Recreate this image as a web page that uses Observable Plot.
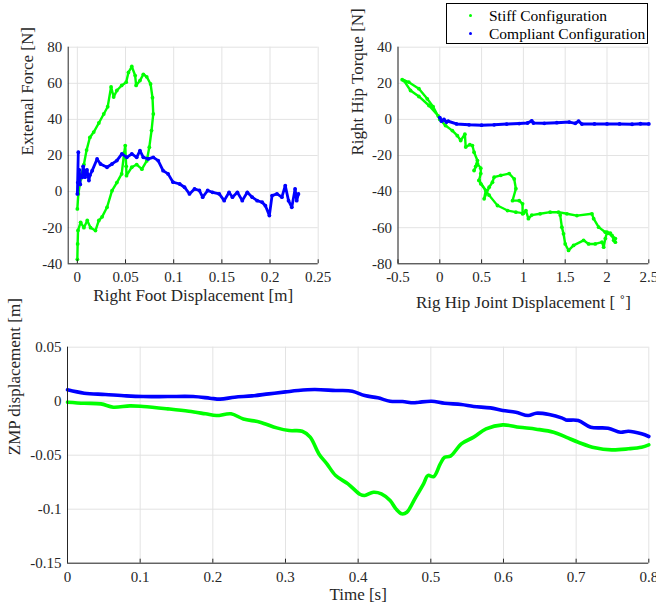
<!DOCTYPE html>
<html><head><meta charset="utf-8">
<script src="https://cdn.jsdelivr.net/npm/d3@7"></script>
<script src="https://cdn.jsdelivr.net/npm/@observablehq/plot@0.6"></script>
<style>
body{margin:0;background:#fff;}
#wrap{position:relative;width:656px;height:614px;font-family:"Liberation Serif","Times New Roman",Times,serif;overflow:hidden;}
#wrap > .p{position:absolute;}
#legend{position:absolute;left:446px;top:3px;width:200px;height:39px;border:1px solid #000;background:#fff;color:#000;font-size:15.5px;}
#legend .row{position:absolute;left:0;height:18px;line-height:18px;white-space:nowrap;}
#legend .dot{position:absolute;left:22px;top:7px;width:3px;height:3px;border-radius:50%;}
#legend .txt{position:absolute;left:42px;top:0;}
</style></head><body><div id="wrap"></div>
<script>
// ---------- data ----------
const seriesNames = ["Stiff Configuration", "Compliant Configuration"];
const seriesColors = ["#00ff00", "#0000ff"];

// Top-left: Right Foot Displacement [m] vs External Force [N]
const footStiff = [[0,-37.5],[0.0003,-29],[0.0007,-21.5],[0.0034,-17],[0.0068,-20],[0.0103,-16],[0.0137,-20],[0.0188,-21.6],[0.0223,-16],[0.0257,-14],[0.0308,-8.7],[0.036,0.5],[0.041,5],[0.046,9.8],[0.0486,21.4],[0.0497,25.5],[0.0507,14],[0.051,8.8],[0.0565,13.5],[0.0616,15],[0.067,12.4],[0.072,17],[0.0747,24.6],[0.077,33.8],[0.0788,43],[0.078,52],[0.076,59.6],[0.072,63.6],[0.0685,65],[0.065,61.5],[0.061,58.8],[0.06,64.3],[0.0565,69.3],[0.053,66],[0.0507,60.6],[0.046,58.8],[0.041,56],[0.0377,52.4],[0.035,58],[0.0315,47],[0.0274,43],[0.0223,38],[0.017,33],[0.013,30],[0.0096,23],[0.0068,15],[0.0034,7],[0.001,-1.3],[0,-9.6]];
const footCompliant = [[0.001,21.8],[0,-1.3],[0.0005,5],[0.002,12],[0.003,4],[0.0017,9.8],[0.0051,7.9],[0.006,14],[0.008,8],[0.0086,11.6],[0.01,12],[0.012,6.1],[0.013,9],[0.0154,11.6],[0.0205,18.1],[0.024,15.3],[0.0308,13.5],[0.036,15.3],[0.041,17.2],[0.0462,20.9],[0.0514,19],[0.0565,20.9],[0.0616,19],[0.065,22.7],[0.0685,19],[0.0736,18.1],[0.0788,19],[0.0839,17.2],[0.089,11.6],[0.0942,9.8],[0.0993,5.2],[0.1062,4.2],[0.1113,2.4],[0.1164,-1.3],[0.1216,1.5],[0.1267,0.6],[0.1301,-3.1],[0.1353,0.6],[0.1404,-0.4],[0.1473,-1.3],[0.1524,-5],[0.1575,-0.4],[0.161,-3.1],[0.1661,-0.4],[0.1712,-5],[0.1764,-0.4],[0.1815,-3.1],[0.1866,-5],[0.1918,-5.9],[0.1952,-7.8],[0.1993,-13.3],[0.2021,-2.2],[0.2072,-1.3],[0.2123,-3.1],[0.2158,3.3],[0.2192,-5],[0.2226,-8.7],[0.226,1.5],[0.2277,-5],[0.2295,-1.3]];
const footXDomain = [-0.0095, 0.25];
const footYDomain = [-40, 80];
const footXTicks = [0, 0.05, 0.1, 0.15, 0.2, 0.25];
const footYTicks = [-40, -20, 0, 20, 40, 60, 80];

// Top-right: Rig Hip Joint Displacement vs Right Hip Torque [N]
const hipStiff = [[-0.02,2],[-0.13,7.7],[-0.25,12.7],[-0.35,16],[-0.43,21.5],[-0.45,22],[-0.37,20.6],[-0.25,17],[-0.15,11.4],[-0.08,7],[0,0],[0.068,-3.4],[0.15,-6.2],[0.21,-9],[0.25,-11.7],[0.3,-8.2],[0.31,-15.3],[0.36,-14],[0.39,-14.5],[0.41,-18.2],[0.45,-22.8],[0.43,-26],[0.41,-28.3],[0.45,-24.5],[0.49,-27],[0.49,-30],[0.47,-33.8],[0.55,-39.4],[0.53,-44],[0.59,-37.6],[0.63,-34.8],[0.65,-32],[0.73,-31],[0.83,-30],[0.89,-33],[0.91,-38.4],[0.87,-45],[0.95,-45],[0.99,-46.8],[0.99,-52.3],[1.03,-50.5],[1.06,-55],[1.1,-53],[1.2,-52.3],[1.32,-51.4],[1.42,-51.4],[1.52,-52.3],[1.64,-53.3],[1.82,-52.3],[1.84,-55],[1.9,-59.7],[1.98,-62.5],[2.06,-64.3],[2.1,-66],[2.08,-67],[2.1,-68],[2.04,-63],[2.0,-62.5],[1.98,-66],[1.96,-70.8],[1.94,-68],[1.86,-69],[1.78,-69],[1.72,-67],[1.6,-69.8],[1.54,-72.6],[1.5,-69],[1.48,-63.4],[1.46,-59.7],[1.44,-53]];
const hipStiffLower = [[0.47,-33.8],[0.49,-35.7],[0.59,-42],[0.69,-47.7],[0.81,-50.5],[0.91,-51.4],[1.0,-52]];
const hipCompliant = [[0,1],[0.02,-1],[0.05,0],[0.08,-1.5],[0.1,-1],[0.2,-2.5],[0.35,-3],[0.5,-3.2],[0.65,-3],[0.8,-2.6],[0.95,-2.3],[1.05,-2],[1.1,-0.8],[1.12,-2],[1.25,-2.2],[1.4,-1.8],[1.55,-1.5],[1.62,-2.2],[1.66,-1],[1.7,-2.6],[1.85,-2.5],[2.0,-2.5],[2.15,-2.5],[2.3,-2.7],[2.4,-2.4],[2.5,-2.5]];
const hipXDomain = [-0.5, 2.5];
const hipYDomain = [-80, 40];
const hipXTicks = [-0.5, 0, 0.5, 1, 1.5, 2, 2.5];
const hipYTicks = [-80, -60, -40, -20, 0, 20, 40];

// Bottom: Time [s] vs ZMP displacement [m]
const zmpStiff = [[0,-0.0009],[0.023,-0.0019],[0.046,-0.0025],[0.063,-0.0056],[0.086,-0.0043],[0.104,-0.0049],[0.138,-0.0071],[0.167,-0.0093],[0.19,-0.0117],[0.205,-0.0133],[0.225,-0.0117],[0.242,-0.0164],[0.265,-0.0194],[0.288,-0.0247],[0.305,-0.0272],[0.323,-0.0278],[0.334,-0.0333],[0.346,-0.0488],[0.357,-0.058],[0.369,-0.0688],[0.386,-0.0765],[0.403,-0.0864],[0.409,-0.0873],[0.421,-0.0843],[0.432,-0.0858],[0.444,-0.092],[0.452,-0.0997],[0.46,-0.1043],[0.467,-0.1028],[0.478,-0.0904],[0.49,-0.0765],[0.496,-0.0688],[0.504,-0.0698],[0.513,-0.058],[0.519,-0.0519],[0.527,-0.0509],[0.542,-0.0395],[0.559,-0.0333],[0.576,-0.0256],[0.599,-0.0219],[0.622,-0.0241],[0.645,-0.0259],[0.669,-0.0287],[0.686,-0.0333],[0.703,-0.038],[0.726,-0.0432],[0.749,-0.0451],[0.772,-0.0441],[0.79,-0.0426],[0.8,-0.0404]];
const zmpCompliant = [[0,0.0105],[0.023,0.0074],[0.052,0.0062],[0.081,0.0049],[0.104,0.0043],[0.138,0.0043],[0.173,0.0043],[0.196,0.0028],[0.21,0.0019],[0.23,0.0037],[0.254,0.0049],[0.277,0.0068],[0.3,0.0086],[0.317,0.0099],[0.34,0.0108],[0.369,0.0099],[0.392,0.0093],[0.409,0.0052],[0.427,0.0031],[0.444,0],[0.461,-0.0003],[0.476,-0.0015],[0.484,-0.0009],[0.501,0],[0.519,-0.0019],[0.542,-0.0031],[0.559,-0.0049],[0.582,-0.0062],[0.599,-0.0086],[0.617,-0.0102],[0.634,-0.0133],[0.645,-0.0111],[0.663,-0.0123],[0.68,-0.0154],[0.686,-0.0173],[0.703,-0.0179],[0.72,-0.0241],[0.744,-0.025],[0.761,-0.0287],[0.772,-0.0278],[0.79,-0.0302],[0.8,-0.0327]];
const zmpXDomain = [0, 0.8];
const zmpYDomain = [-0.15, 0.05];
const zmpXTicks = [0, 0.1, 0.2, 0.3, 0.4, 0.5, 0.6, 0.7, 0.8];
const zmpYTicks = [-0.15, -0.1, -0.05, 0, 0.05];

// ---------- drawing ----------
const INK = "#262626", GRID = "#e3e3e3";
const FONT = '"Liberation Serif", "Times New Roman", Times, serif';
const wrap = document.getElementById("wrap");

function panel(cfg) {
  const marks = [
    Plot.gridX(cfg.xt, {stroke: GRID, strokeOpacity: 1, strokeWidth: 1}),
    Plot.gridY(cfg.yt, {stroke: GRID, strokeOpacity: 1, strokeWidth: 1}),
    ...cfg.series,
    Plot.ruleX([cfg.xd[0]], {stroke: INK, strokeWidth: 1}),
    Plot.ruleY([cfg.yd[0]], {stroke: INK, strokeWidth: 1}),
    Plot.axisX(cfg.xt, {anchor: "bottom", tickSize: -4, tickPadding: 12, fontSize: 15, fontFamily: FONT, tickFormat: d => String(d), label: null, color: INK}),
    Plot.axisY(cfg.yt, {anchor: "left", tickSize: 0, tickPadding: 6, fontSize: 15, fontFamily: FONT, tickFormat: d => String(d), label: null, color: INK}),
    Plot.text([cfg.xlabel], {frameAnchor: "bottom", dy: cfg.xdy, fontSize: 17, fontFamily: FONT, fill: INK}),
    Plot.text([cfg.ylabel], {frameAnchor: "left", dx: cfg.ydx, rotate: -90, fontSize: 17, fontFamily: FONT, fill: INK})
  ];
  const svg = Plot.plot({
    width: cfg.w, height: cfg.h,
    marginLeft: cfg.ml, marginRight: cfg.mr, marginTop: cfg.mt, marginBottom: cfg.mb,
    x: {type: "linear", domain: cfg.xd}, y: {type: "linear", domain: cfg.yd},
    style: {fontFamily: FONT, background: "transparent", color: INK, overflow: "visible"},
    marks
  });
  svg.classList.add("p");
  svg.style.left = cfg.left + "px";
  svg.style.top = cfg.top + "px";
  wrap.appendChild(svg);
}

function scatter(pts, color, w) {
  return [
    Plot.line(pts, {x: d => d[0], y: d => d[1], stroke: color, strokeWidth: w, curve: "linear", strokeLinejoin: "round"}),
    Plot.dot(pts, {x: d => d[0], y: d => d[1], r: 1.9, fill: color, stroke: "none"})
  ];
}

panel({
  left: 0, top: 0, w: 330, h: 320, ml: 67.7, mr: 12.3, mt: 46.7, mb: 56.7,
  xd: footXDomain, yd: footYDomain, xt: footXTicks, yt: footYTicks,
  xlabel: "Right Foot Displacement [m]", ylabel: "External Force [N]", xdy: 37, ydx: -41,
  series: [...scatter(footStiff, seriesColors[0], 2.4), ...scatter(footCompliant, seriesColors[1], 2.8)]
});

panel({
  left: 330, top: 0, w: 326, h: 320, ml: 67.5, mr: 7.7, mt: 46.7, mb: 56.7,
  xd: hipXDomain, yd: hipYDomain, xt: hipXTicks, yt: hipYTicks,
  xlabel: "Rig Hip Joint Displacement [ \u02DA]", ylabel: "Right Hip Torque [N]", xdy: 44, ydx: -40.5,
  series: [...scatter(hipStiff, seriesColors[0], 2.4), ...scatter(hipStiffLower, seriesColors[0], 2.2), ...scatter(hipCompliant, seriesColors[1], 3)]
});

panel({
  left: 0, top: 330, w: 656, h: 284, ml: 67, mr: 7.7, mt: 16.7, mb: 51.3,
  xd: zmpXDomain, yd: zmpYDomain, xt: zmpXTicks, yt: zmpYTicks,
  xlabel: "Time [s]", ylabel: "ZMP displacement [m]", xdy: 37, ydx: -52.5,
  series: [
    Plot.line(zmpStiff, {x: d => d[0], y: d => d[1], stroke: seriesColors[0], strokeWidth: 3.6, curve: "catmull-rom"}),
    Plot.line(zmpCompliant, {x: d => d[0], y: d => d[1], stroke: seriesColors[1], strokeWidth: 3.6, curve: "catmull-rom"})
  ]
});

// legend
const leg = document.createElement("div");
leg.id = "legend";
seriesNames.forEach((name, i) => {
  const row = document.createElement("div");
  row.className = "row";
  row.style.top = (3 + i * 17.5) + "px";
  row.style.width = "200px";
  const dot = document.createElement("span");
  dot.className = "dot";
  dot.style.background = seriesColors[i];
  const txt = document.createElement("span");
  txt.className = "txt";
  txt.textContent = name;
  row.appendChild(dot); row.appendChild(txt);
  leg.appendChild(row);
});
wrap.appendChild(leg);
</script>
</body></html>
